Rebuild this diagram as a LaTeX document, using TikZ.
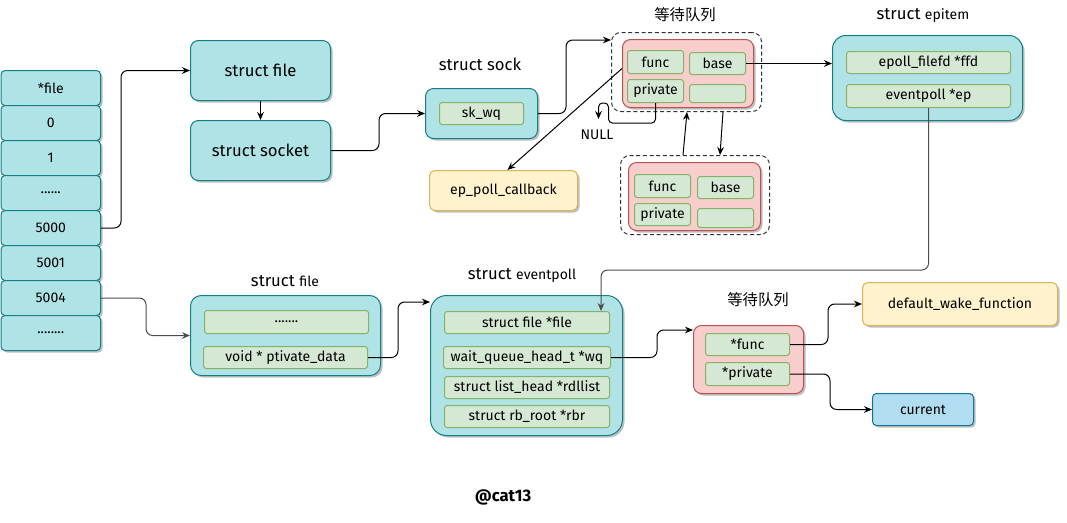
\documentclass[tikz,border=0pt]{standalone}
\usepackage{fontspec}
\setmainfont{Fira Sans}
\newfontfamily\cjk{Noto Sans CJK SC}
\usetikzlibrary{arrows.meta,shadows,calc}
\definecolor{tealfill}{HTML}{B0E3E6}
\definecolor{tealline}{HTML}{0E8088}
\definecolor{greenfill}{HTML}{D5E8D4}
\definecolor{greenline}{HTML}{82B366}
\definecolor{redfill}{HTML}{F8CECC}
\definecolor{redline}{HTML}{B85450}
\definecolor{yelfill}{HTML}{FFF2CC}
\definecolor{yelline}{HTML}{D6B656}
\definecolor{bluefill}{HTML}{B1DDF0}
\definecolor{blueline}{HTML}{10739E}
\definecolor{dashline}{HTML}{333333}
\newcommand{\bnode}[7]{%
  \pgfmathsetmacro\bxw{(#5-#3)*0.75}%
  \pgfmathsetmacro\bxh{(#6-#4)*0.75}%
  \node[#1, anchor=north west, minimum width=\bxw pt, minimum height=\bxh pt, inner sep=0pt] (#2) at (#3,#4) {#7};}
\tikzset{
  shad/.style={drop shadow={shadow xshift=1.5pt, shadow yshift=-1.5pt, opacity=0.25, fill=black}},
  ft/.style={font=\fontsize{10.5}{12}\selectfont},
  big/.style={font=\fontsize{12.5}{14}\selectfont},
  tealbox/.style={draw=tealline, fill=tealfill, line width=0.75pt, rounded corners=6pt, shad},
  cellbox/.style={draw=tealline, fill=tealfill, line width=0.75pt, rounded corners=3pt, shad, ft},
  greenbox/.style={draw=greenline, fill=greenfill, line width=0.75pt, rounded corners=2pt, ft},
  redbox/.style={draw=redline, fill=redfill, line width=0.75pt, rounded corners=6pt, shad},
  yelbox/.style={draw=yelline, fill=yelfill, line width=0.75pt, rounded corners=4pt, shad, ft},
  bluebox/.style={draw=blueline, fill=bluefill, line width=0.75pt, rounded corners=3pt, shad, ft},
  dashbox/.style={draw=dashline, line width=0.75pt, dash pattern=on 3pt off 2pt, rounded corners=7pt},
  conn/.style={draw=black, line width=0.75pt, -{Stealth[length=6pt,width=5pt]}, rounded corners=5pt},
  lbl/.style={inner sep=0pt, font=\fontsize{12.5}{14}\selectfont},
  sm/.style={font=\fontsize{10.5}{12}\selectfont},
  cjklbl/.style={inner sep=0pt, font=\cjk\fontsize{11.5}{13}\selectfont},
}
\begin{document}
\begin{tikzpicture}[x=0.75pt,y=-0.75pt]
\useasboundingbox (0,0) rectangle (1067,522);
% file descriptor array
\bnode{cellbox}{c0}{0.5}{70}{100}{105}{*file}
\bnode{cellbox}{c1}{0.5}{105}{100}{140}{0}
\bnode{cellbox}{c2}{0.5}{140}{100}{175}{1}
\bnode{cellbox}{c3}{0.5}{175}{100}{210}{......}
\bnode{cellbox}{c4}{0.5}{210}{100}{245}{5000}
\bnode{cellbox}{c5}{0.5}{245}{100}{280}{5001}
\bnode{cellbox}{c6}{0.5}{280}{100}{315}{5004}
\bnode{cellbox}{c7}{0.5}{315}{100}{350}{........}
% socket side
\bnode{tealbox,big}{sfile}{190}{40}{330}{100}{struct file}
\bnode{tealbox,big}{ssock}{190}{120}{330}{180}{struct socket}
\node[lbl] (lsock) at (480,64) {struct sock};
\bnode{tealbox}{skbox}{425}{88}{537}{138}{}
\bnode{greenbox}{skwq}{439}{102}{523}{124}{sk\_wq}
\bnode{yelbox}{epcb}{429}{170}{577}{210}{ep\_poll\_callback}
% wait queue 1
\node[cjklbl] (lq1) at (685,15) {等待队列};
\bnode{dashbox}{dq1}{611}{32}{761}{111}{}
\bnode{redbox}{red1}{622}{39}{753}{107}{}
\bnode{greenbox}{func1}{627}{50}{683}{73}{func}
\bnode{greenbox}{base1}{689}{52}{745}{74}{base}
\bnode{greenbox}{priv1}{627}{79}{683}{102}{private}
\bnode{greenbox}{emp1}{689}{84}{745}{102}{}
\node[inner sep=0pt, ft] (lnull) at (597,135) {NULL};
% wait queue 2
\bnode{dashbox}{dq2}{620}{155}{769}{234}{}
\bnode{redbox}{red2}{628}{162}{760}{230}{}
\bnode{greenbox}{func2}{634}{174}{690}{197}{func}
\bnode{greenbox}{base2}{697}{176}{753}{198}{base}
\bnode{greenbox}{priv2}{634}{203}{690}{225}{private}
\bnode{greenbox}{emp2}{697}{208}{753}{227}{}
% epitem
\node[lbl] (lepitem) at (923,16) {struct {\fontsize{10.5}{12}\selectfont epitem}};
\bnode{tealbox,rounded corners=10pt}{epitem}{832}{35}{1022}{120}{}
\bnode{greenbox}{ffd}{846}{51}{1010}{73}{epoll\_filefd *ffd}
\bnode{greenbox}{epptr}{846}{84}{1010}{107}{eventpoll *ep}
% lower struct file
\node[lbl] (lfile2) at (285,281) {struct {\fontsize{10.5}{12}\selectfont file}};
\bnode{tealbox,rounded corners=8pt}{sfile2}{190}{295}{380}{375}{}
\bnode{greenbox}{dots}{204}{310}{368}{333}{.......}
\bnode{greenbox}{pdata}{203}{346}{367}{368}{void * ptivate\_data}
% eventpoll
\node[lbl] (levp) at (522,276) {struct {\fontsize{10.5}{12}\selectfont eventpoll}};
\bnode{tealbox,rounded corners=12pt}{evp}{430}{295}{622}{435}{}
\bnode{greenbox}{sff}{444}{311}{609}{333}{struct file *file}
\bnode{greenbox}{wq}{443}{346}{610}{368}{wait\_queue\_head\_t *wq}
\bnode{greenbox}{rdl}{444}{376}{609}{398}{struct list\_head *rdllist}
\bnode{greenbox}{rbr}{444}{405}{609}{427}{struct rb\_root *rbr}
% wait queue 3
\node[cjklbl] (lq2) at (758,300) {等待队列};
\bnode{redbox}{red3}{693}{325}{803}{393}{}
\bnode{greenbox}{func3}{705}{333}{789}{355}{*func}
\bnode{greenbox}{priv3}{705}{362}{789}{385}{*private}
\bnode{yelbox}{dwf}{862}{282}{1057}{325}{default\_wake\_function}
\bnode{bluebox}{cur}{872}{393}{973}{425}{current}
\node[lbl, font=\bfseries\fontsize{12.5}{14}\selectfont] (lcat) at (503,497) {@cat13};
% connectors
\coordinate (yk) at (0,270);
\draw[conn] (c4.east) -- ++(20,0) |- (sfile.west);
\draw[conn] (sfile.south) -- (ssock.north);
\draw[conn] (ssock.east) -- ++(48,0) |- (skbox.west);
\draw[conn] (skbox.east) -- ++(28,0) |- ($(dq1.north west)+(0,8)$);
\draw[conn] (base1.east) -- (epitem.west |- base1.east);
\draw[conn] ($(red1.west)+(0,-5)$) -- ($(epcb.north)+(4,0)$);
\draw[conn, rounded corners=3pt] (priv1.south) -- ++(0,20) -- ++(-47,0) -- ++(0,-20) -- ++(-10,0) -- ++(0,16);
\draw[conn] ($(dq2.north west)+(63,0)$) -- ($(dq1.south west)+(76,0)$);
\draw[conn] ($(dq1.south west)+(112,0)$) -- ($(dq2.north west)+(100,0)$);
\draw[conn, draw=black!70] (epptr.south) -- (epptr.south |- yk) -| ($(sff.north)+(74,0)$);
\draw[conn, draw=black!70] (c6.east) -- ++(45,0) |- (sfile2.west);
\draw[conn] (pdata.east) -- ++(30,0) |- ($(evp.north west)+(0,7)$);
\draw[conn] (wq.east) -- ++(46,0) |- ($(red3.north west)+(0,5)$);
\draw[conn] (func3.east) -- ++(38,0) |- (dwf.west);
\draw[conn] (priv3.east) -- ++(40,0) |- (cur.west);
\end{tikzpicture}
\end{document}
